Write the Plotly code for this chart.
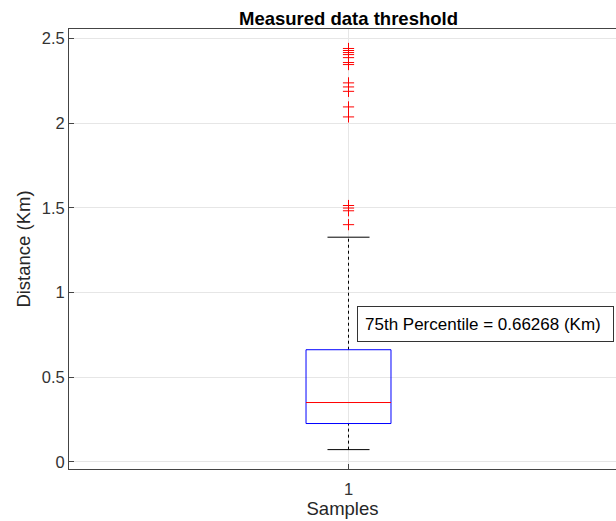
import plotly.graph_objects as go

# Data
category = [1]
q1 = [0.227]
median = [0.351]
q3 = [0.66268]
lower_whisker = [0.073]
upper_whisker = [1.327]
outliers = [2.441, 2.429, 2.417, 2.405, 2.387, 2.358, 2.346,
            2.238, 2.214, 2.188, 2.096, 2.037,
            1.514, 1.499, 1.483, 1.401]

box_half = 0.076
cap_half = 0.0376

x0 = category[0]
fig = go.Figure()

# whiskers (dashed)
fig.add_trace(go.Scatter(x=[x0, x0], y=[q3[0], upper_whisker[0]], mode="lines",
                         line=dict(color="black", width=1, dash="3px,3px"), hoverinfo="skip"))
fig.add_trace(go.Scatter(x=[x0, x0], y=[lower_whisker[0], q1[0]], mode="lines",
                         line=dict(color="black", width=1, dash="3px,3px"), hoverinfo="skip"))
# caps
fig.add_trace(go.Scatter(x=[x0 - cap_half, x0 + cap_half], y=[upper_whisker[0]] * 2, mode="lines",
                         line=dict(color="black", width=1), hoverinfo="skip"))
fig.add_trace(go.Scatter(x=[x0 - cap_half, x0 + cap_half], y=[lower_whisker[0]] * 2, mode="lines",
                         line=dict(color="black", width=1), hoverinfo="skip"))
# box
fig.add_trace(go.Scatter(x=[x0 - box_half, x0 + box_half, x0 + box_half, x0 - box_half, x0 - box_half],
                         y=[q1[0], q1[0], q3[0], q3[0], q1[0]], mode="lines",
                         line=dict(color="blue", width=1), hoverinfo="skip"))
# median
fig.add_trace(go.Scatter(x=[x0 - box_half, x0 + box_half], y=[median[0]] * 2, mode="lines",
                         line=dict(color="red", width=1), hoverinfo="skip"))
# outliers
fig.add_trace(go.Scatter(x=[x0] * len(outliers), y=outliers, mode="markers",
                         marker=dict(symbol="cross-thin", size=8, line=dict(color="red", width=1)),
                         hoverinfo="skip"))

FONT = "Liberation Sans, Arial, Helvetica"

fig.add_annotation(x=x0 + 0.0152, y=0.8126, xref="x", yref="y", xanchor="left", yanchor="middle",
                   text="75th Percentile = 0.66268 (Km)", showarrow=False, align="left",
                   font=dict(family=FONT, size=17, color="black"),
                   bgcolor="white", bordercolor="#333333", borderwidth=1, borderpad=7,
                   width=241, height=20)

tick_font = dict(family=FONT, size=16.5, color="#333333")
label_font = dict(family=FONT, size=18.5, color="#262626")

fig.update_layout(
    width=616, height=521,
    margin=dict(l=69, r=0, t=29, b=52),
    plot_bgcolor="white", paper_bgcolor="white",
    showlegend=False,
    title=dict(text="<b>Measured data threshold</b>", x=348.5 / 616, xanchor="center", xref="container",
               y=1 - 19 / 521, yanchor="middle", yref="container",
               font=dict(family=FONT, size=18.5, color="black")),
    xaxis=dict(range=[0.5, 1.4785], tickvals=category, ticktext=["1"],
               showgrid=True, gridcolor="#e6e6e6", gridwidth=1,
               showline=True, linecolor="#444444", linewidth=1, mirror=True,
               ticks="inside", ticklen=5, tickcolor="#444444",
               tickfont=tick_font, zeroline=False, ticklabelstandoff=5,
               title=dict(text="Samples", font=label_font, standoff=3)),
    yaxis=dict(range=[-0.0414, 2.556], tickvals=[0, 0.5, 1, 1.5, 2, 2.5],
               ticktext=["0", "0.5", "1", "1.5", "2", "2.5"],
               showgrid=True, gridcolor="#e6e6e6", gridwidth=1,
               showline=True, linecolor="#444444", linewidth=1,
               ticks="inside", ticklen=5, tickcolor="#444444",
               tickfont=tick_font, zeroline=False,
               title=dict(text="Distance (Km)", font=label_font, standoff=6)),
)

fig.write_html("out.html")
